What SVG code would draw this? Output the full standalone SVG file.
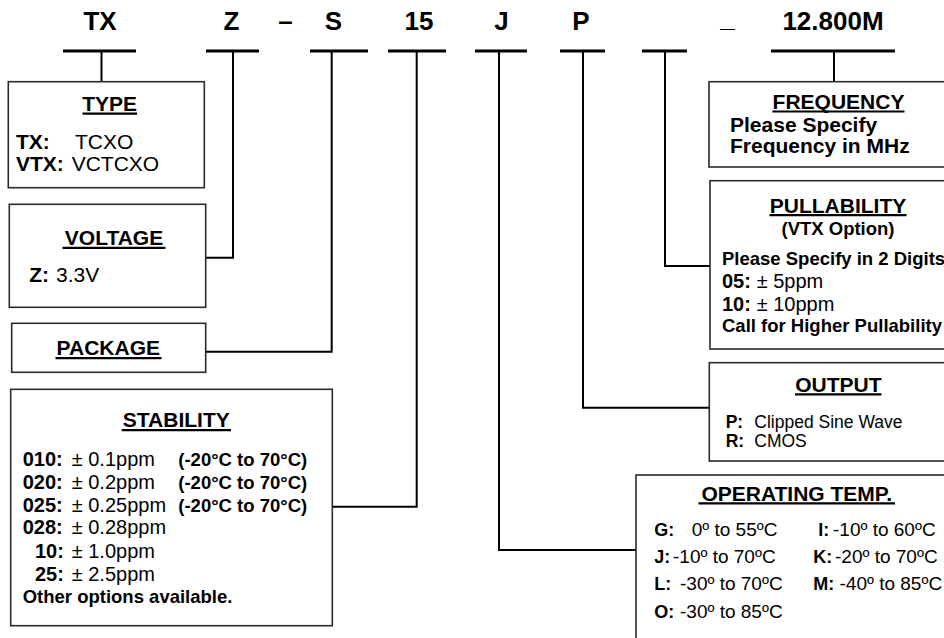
<svg xmlns="http://www.w3.org/2000/svg" width="944" height="638" viewBox="0 0 944 638">
<style>
text{font-family:"Liberation Sans",Arial,sans-serif;fill:#000}
.top{font-size:26px;font-weight:bold;text-anchor:middle}
.hd{font-size:21px;font-weight:bold;text-anchor:middle}
.mid{text-anchor:middle}
.b{font-weight:bold}
.t21{font-size:21px}
.t20{font-size:20px}
.t19{font-size:19px}
.t18{font-size:18px}
.t185{font-size:18.5px}
.t17{font-size:17.5px}
.box{fill:#fff;stroke:#2a2a2a;stroke-width:1.6}
.bar{stroke:#000;stroke-width:3;fill:none}
.con{stroke:#000;stroke-width:2;fill:none}
.ul{stroke:#000;stroke-width:2.2}
</style>
<rect width="944" height="638" fill="#fff"/>

<g id="code">
<text class="top" x="100" y="30">TX</text>
<text class="top" x="231.5" y="30">Z</text>
<text class="top" x="285.5" y="30">–</text>
<text class="top" x="333.5" y="30">S</text>
<text class="top" x="419" y="30">15</text>
<text class="top" x="501.5" y="30">J</text>
<text class="top" x="581" y="30">P</text>
<text class="top" x="727.5" y="27">_</text>
<text class="top" x="833" y="30">12.800M</text>
</g>

<g id="connectors">
<line class="bar" x1="63" y1="51" x2="136" y2="51"/>
<line class="bar" x1="206" y1="51" x2="259" y2="51"/>
<line class="bar" x1="310" y1="51" x2="368" y2="51"/>
<line class="bar" x1="388" y1="51" x2="446" y2="51"/>
<line class="bar" x1="475" y1="51" x2="527" y2="51"/>
<line class="bar" x1="560" y1="51" x2="605" y2="51"/>
<line class="bar" x1="642" y1="51" x2="687" y2="51"/>
<line class="bar" x1="771" y1="51" x2="895" y2="51"/>
<polyline class="con" points="101.5,51 101.5,81.7"/>
<polyline class="con" points="233,51 233,257.7 205.7,257.7"/>
<polyline class="con" points="331.7,51 331.7,351.7 205.7,351.7"/>
<polyline class="con" points="416.7,51 416.7,506.7 332.3,506.7"/>
<polyline class="con" points="499,51 499,550 636,550"/>
<polyline class="con" points="583,51 583,407.7 709.3,407.7"/>
<polyline class="con" points="665,51 665,266 710,266"/>
<polyline class="con" points="834,51 834,81.7"/>
</g>

<g id="type">
<rect class="box" x="8.3" y="81.7" width="196" height="106"/>
<text class="hd" x="109.7" y="111">TYPE</text>
<line class="ul" x1="82.5" y1="113.6" x2="137" y2="113.6"/>
<text class="t21 b" x="16" y="149">TX:</text>
<text class="t21" x="75" y="149">TCXO</text>
<text class="t21 b" x="16" y="171">VTX:</text>
<text class="t21" x="71.7" y="171">VCTCXO</text>
</g>

<g id="voltage">
<rect class="box" x="9.3" y="204.3" width="196.4" height="103"/>
<text class="hd" x="114" y="245">VOLTAGE</text>
<line class="ul" x1="62.5" y1="247.8" x2="165.5" y2="247.8"/>
<text class="t21 b" x="29.3" y="282.3">Z:</text>
<text class="t21" x="56" y="282.3">3.3V</text>
</g>

<g id="package">
<rect class="box" x="11.7" y="323.3" width="194" height="49"/>
<text class="hd" x="108.3" y="355">PACKAGE</text>
<line class="ul" x1="55.5" y1="358.2" x2="161.5" y2="358.2"/>
</g>

<g id="stability">
<rect class="box" x="10.7" y="389.3" width="321.6" height="236.4"/>
<text class="hd" x="176.3" y="427.3">STABILITY</text>
<line class="ul" x1="121.7" y1="430.1" x2="231" y2="430.1"/>
<text class="t20 b" x="22.7" y="466">010:</text>
<text class="t20" x="71.7" y="466">± 0.1ppm</text>
<text class="t185 b" x="178.3" y="466">(-20°C to 70°C)</text>
<text class="t20 b" x="22.7" y="488.6">020:</text>
<text class="t20" x="71.7" y="488.6">± 0.2ppm</text>
<text class="t185 b" x="178.3" y="488.6">(-20°C to 70°C)</text>
<text class="t20 b" x="22.7" y="511.5">025:</text>
<text class="t20" x="71.7" y="511.5">± 0.25ppm</text>
<text class="t185 b" x="178.3" y="511.5">(-20°C to 70°C)</text>
<text class="t20 b" x="22.7" y="534.4">028:</text>
<text class="t20" x="71.7" y="534.4">± 0.28ppm</text>
<text class="t20 b" x="35" y="557.5">10:</text>
<text class="t20" x="71.7" y="557.5">± 1.0ppm</text>
<text class="t20 b" x="35" y="580.6">25:</text>
<text class="t20" x="71.7" y="580.6">± 2.5ppm</text>
<text class="t185 b" x="22.7" y="602.7">Other options available.</text>
</g>

<g id="frequency">
<rect class="box" x="709" y="81.7" width="250" height="85.3"/>
<text class="hd" x="838.5" y="108.5">FREQUENCY</text>
<line class="ul" x1="772.5" y1="111.5" x2="904.5" y2="111.5"/>
<text class="t21 b" x="730" y="131.7">Please Specify</text>
<text class="t21 b" x="730" y="153">Frequency in MHz</text>
</g>

<g id="pullability">
<rect class="box" x="710" y="180.7" width="250" height="168.3"/>
<text class="hd" x="838" y="212.7">PULLABILITY</text>
<line class="ul" x1="769.5" y1="215.2" x2="906.5" y2="215.2"/>
<text class="t185 b mid" x="838" y="235">(VTX Option)</text>
<text class="t185 b" x="722" y="265">Please Specify in 2 Digits</text>
<text class="t20 b" x="722" y="288">05:</text>
<text class="t20" x="756.7" y="288">± 5ppm</text>
<text class="t20 b" x="722" y="310.7">10:</text>
<text class="t20" x="756.7" y="310.7">± 10ppm</text>
<text class="t185 b" x="722" y="332">Call for Higher Pullability</text>
</g>

<g id="output">
<rect class="box" x="709.3" y="362.7" width="250" height="98.3"/>
<text class="hd" x="838.3" y="391.7">OUTPUT</text>
<line class="ul" x1="795" y1="394.4" x2="881.5" y2="394.4"/>
<text class="t17 b" x="725.7" y="427.7">P:</text>
<text class="t17" x="754.3" y="427.7">Clipped Sine Wave</text>
<text class="t17 b" x="725.7" y="446.7">R:</text>
<text class="t17" x="754.3" y="446.7">CMOS</text>
</g>

<g id="operating-temp">
<rect class="box" x="636" y="475" width="324" height="180"/>
<text class="hd" x="796.7" y="500.7">OPERATING TEMP.</text>
<line class="ul" x1="698.5" y1="503.4" x2="895" y2="503.4"/>
<text class="t18 b" x="654.3" y="536">G:</text>
<text class="t19" x="691.7" y="536">0º to 55ºC</text>
<text class="t18 b" x="818.3" y="536">I:</text>
<text class="t19" x="833" y="536">-10º to 60ºC</text>
<text class="t18 b" x="654.3" y="563.3">J:</text>
<text class="t19" x="673" y="563.3">-10º to 70ºC</text>
<text class="t18 b" x="813.3" y="563.3">K:</text>
<text class="t19" x="835" y="563.3">-20º to 70ºC</text>
<text class="t18 b" x="654.3" y="590">L:</text>
<text class="t19" x="680" y="590">-30º to 70ºC</text>
<text class="t18 b" x="813.3" y="590">M:</text>
<text class="t19" x="839.5" y="590">-40º to 85ºC</text>
<text class="t18 b" x="654.3" y="618.3">O:</text>
<text class="t19" x="680" y="618.3">-30º to 85ºC</text>
</g>
</svg>
